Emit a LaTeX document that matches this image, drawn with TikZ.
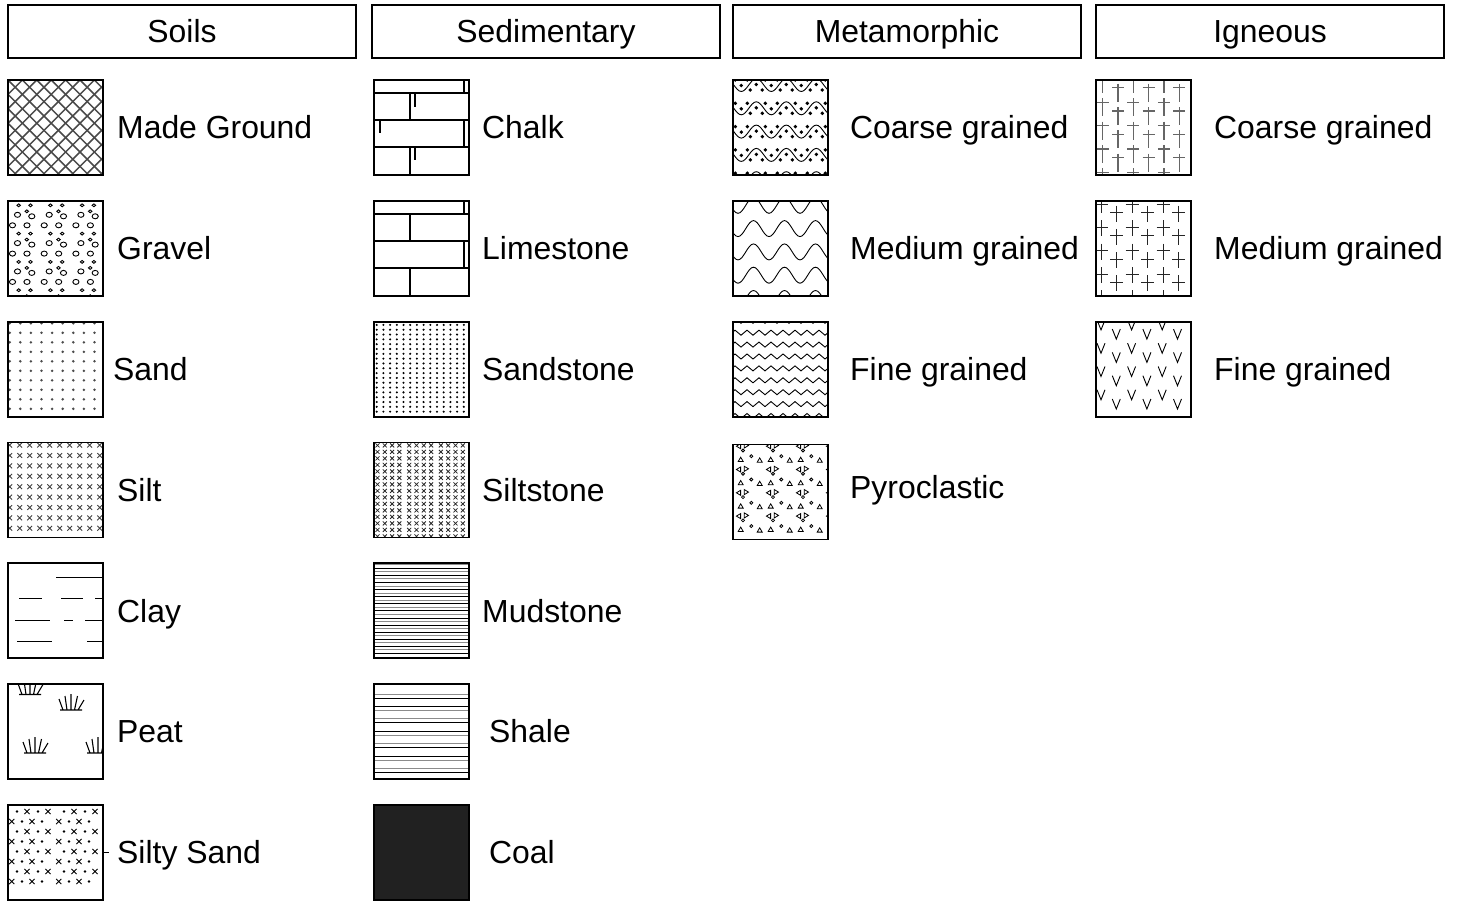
\documentclass[tikz,border=0pt]{standalone}
\usepackage{fontspec}
\setmainfont{Liberation Sans}
\usetikzlibrary{positioning}
\definecolor{hatch}{HTML}{4A4A4A}
\definecolor{coalgray}{HTML}{212121}
\definecolor{softline}{HTML}{8C8C8C}

\newcommand{\legendfont}{\fontsize{31.9pt}{38pt}\selectfont}
\newcommand{\xx}[3][2.2]{\draw (#2-#1,#3-#1) -- (#2+#1,#3+#1) (#2-#1,#3+#1) -- (#2+#1,#3-#1);}
\newcommand{\dt}[2]{\fill (#1,#2) circle[radius=1.9];}
\newcommand{\tuft}[2]{\draw[line width=1.1pt,shift={(#1,#2)}] (-11,0) -- (11,0) (-8,0) -- (-12,-11) (-4,0) -- (-6,-14) (0,0) -- (0,-16) (3.5,0) -- (6.5,-14) (7,0) -- (13,-10);}
\newcommand{\wave}[4]{\draw[line width=0.9pt] (#3-#4,#1+#2) \foreach \k in {-1,...,3}{ cos (#3+\k*#4+0.25*#4,#1) sin (#3+\k*#4+0.5*#4,#1-#2) cos (#3+\k*#4+0.75*#4,#1) sin (#3+\k*#4+#4,#1+#2)};}
\newcommand{\igcross}[5]{\draw (#1-#5,#2) -- (#1+#5,#2) (#1,#2-#3) -- (#1,#2+#4);}
\newcommand{\vmark}[2]{\draw (#1-4,#2-5) -- (#1,#2+5) -- (#1+4,#2-5);}

% soils
\newcommand{\patmade}{\foreach \k in {-7,...,14}{\draw[hatch,line width=1.5pt] (\k*14.4,0) -- ++(100,100) (\k*14.4,0) -- ++(-100,100);}}
\newcommand{\patgravel}{\foreach \i in {0,...,3}{\foreach \j in {0,...,3}{\foreach \x/\y/\r in {10.7/4.5/1.6,22.5/4.5/1.6,9.5/14/2.8,18.8/10.5/1.6,23.8/15.5/2.8,4.5/24.5/2.8,19/24.5/2.8}{\draw[line width=0.9pt] (\i*31.7+\x,\j*28.3+\y) ellipse[x radius=1.1*\r,y radius=0.9*\r];}}}}
\newcommand{\patsand}{\foreach \i in {0,...,8}{\foreach \j in {0,...,9}{\fill[black!70] (1.7+\i*10.6,1.7+\j*9.5) circle[radius=1.4];}}}
\newcommand{\patsilt}{\begin{scope}[black!75,line width=0.9pt]\foreach \i in {0,...,9}{\foreach \j in {0,...,8}{\xx[2.4]{1.7+\i*10}{2.7+\j*10.4}}}\end{scope}}
\newcommand{\patclay}{\draw[line width=1.4pt] (48,14) -- (95,14) (11,35) -- (34,35) (53,35) -- (75,35) (87,35) -- (95,35) (7,57) -- (42,57) (56,57) -- (65,57) (77,57) -- (95,57) (9,78) -- (44,78) (79,78) -- (95,78);}
\newcommand{\patpeat}{\tuft{22}{10.5}\tuft{63}{26}\tuft{27}{69}\tuft{90}{69}}
\newcommand{\patsiltysand}{\begin{scope}[line width=0.9pt]
  \foreach \i in {0,1}{
    \foreach \j in {0,2,4,6}{\fill (\i*47+9,6.7+\j*10) circle[radius=1.3]; \xx[2.6]{\i*47+19}{6.7+\j*10} \fill (\i*47+30,6.7+\j*10) circle[radius=1.3]; \xx[2.6]{\i*47+40}{6.7+\j*10}}
    \foreach \j in {1,3,5,7}{\xx[2.6]{\i*47+3.7}{6.7+\j*10} \fill (\i*47+14,6.7+\j*10) circle[radius=1.3]; \xx[2.6]{\i*47+24}{6.7+\j*10} \fill (\i*47+34,6.7+\j*10) circle[radius=1.3];}}
\end{scope}}

% sedimentary
\newcommand{\patlime}{\draw[line width=1.6pt] (0,13) -- (95,13) (0,40) -- (95,40) (0,67) -- (95,67) (90,0) -- (90,13) (36,13) -- (36,40) (90,40) -- (90,67) (36,67) -- (36,95);}
\newcommand{\patchalk}{\patlime\draw[line width=1.6pt] (41,13) -- (41,27) (6,40) -- (6,53) (41,67) -- (41,80);}
\newcommand{\patsandst}{\foreach \i in {0,...,13}{\foreach \j in {0,...,18}{\fill (2.7+\i*6.7,3.3+\j*4.82) circle[radius=1.15];}}}
\newcommand{\patsiltst}{\begin{scope}[black!85,line width=0.8pt]\foreach \g in {0,1,2}{\foreach \k in {0,...,3}{\foreach \j in {0,...,14}{\xx[2]{\g*31.7+3.5+\k*7.3}{3+\j*6.5}}}}\end{scope}}
\newcommand{\patmud}{\foreach \j in {0,...,26}{\ifodd\j\def\mudcol{black}\else\def\mudcol{softline}\fi\draw[\mudcol,line width=0.9pt] (0,1.5+\j*3.55) -- (95,1.5+\j*3.55);}}
\newcommand{\patshale}{\foreach \j in {0,...,6}{\ifodd\j\def\shup{black}\def\shlo{softline}\else\def\shup{softline}\def\shlo{black}\fi
  \draw[\shup,line width=1pt] (0,10+\j*12.4) -- (95,10+\j*12.4);
  \draw[\shlo,line width=1pt] (0,14+\j*12.4) -- (95,14+\j*12.4);}}
\newcommand{\patcoal}{\fill[coalgray] (0,0) rectangle (95,95);}

% metamorphic
\newcommand{\patmetc}{\foreach \j in {0,...,4}{\wave{5+\j*23.3}{6.5}{8.3}{30}
  \foreach \k in {-1,...,3}{\dt{8.3+\k*30}{5+\j*23.3+0.5}\dt{2.3+\k*30}{\j*23.3}\dt{14.3+\k*30}{\j*23.3}\dt{23.3+\k*30}{5+\j*23.3-0.5}\dt{17.3+\k*30}{10+\j*23.3}\dt{29.3+\k*30}{10+\j*23.3}}}}
\newcommand{\patmetm}{\foreach \j in {0,...,4}{\wave{4.5+\j*23.3}{8}{5}{31}}}
\newcommand{\patmetf}{\foreach \j in {0,...,8}{\draw[line width=0.9pt] (-4,1.7+\j*11.9) \foreach \k in {0,...,8}{ -- (\k*12+2,-3.3+\j*11.9) -- (\k*12+8,1.7+\j*11.9)};}}
\newcommand{\patpyro}{\begin{scope}[line width=0.8pt]\foreach \i in {-1,...,3}{\foreach \j in {-1,...,3}{
  \begin{scope}[shift={(\i*30,1.7+\j*23.3)}]
    \draw (3.4,0) -- (7.6,-2.5) -- (7.6,2.5) -- cycle;
    \draw (10,4.3) circle[radius=1.5];
    \draw (15.5,-0.7) -- (11.3,-3.2) -- (11.3,1.8) -- cycle;
    \draw (5.2,15.3) -- (10.2,15.3) -- (7.7,11) -- cycle;
    \draw (18.3,10) circle[radius=1.5];
    \draw (24.2,16) -- (29.2,16) -- (26.7,11.7) -- cycle;
  \end{scope}}}\end{scope}}

% igneous
\newcommand{\patigc}{\begin{scope}[black!60,line width=1.2pt]
  \foreach \i in {0,2,4}{\foreach \j in {0,...,4}{\igcross{6.7+\i*15.3}{-1+\j*23.3}{4}{14}{6}}}
  \foreach \i in {1,3,5}{\foreach \j in {-1,...,3}{\igcross{6.7+\i*15.3}{7.7+\j*23.3}{4}{14}{6}}}
\end{scope}}
\newcommand{\patigm}{\begin{scope}[black!85,line width=1pt]
  \foreach \i in {0,2,4}{\foreach \j in {0,...,4}{\igcross{5+\i*15.5}{3.3+\j*23.3}{7}{9}{6.5}}}
  \foreach \i in {1,3,5}{\foreach \j in {0,...,3}{\igcross{5+\i*15.5}{11.7+\j*23.3}{7}{9}{6.5}}}
\end{scope}}
\newcommand{\patigf}{\begin{scope}[line width=0.9pt]
  \foreach \i in {0,2,4}{\foreach \j in {0,...,3}{\vmark{5+\i*15.3}{3.3+\j*23.3}}}
  \foreach \i in {1,3,5}{\foreach \j in {0,...,3}{\vmark{5+\i*15.3}{12.5+\j*23.3}}}
\end{scope}}

\newcommand{\swatch}[4]{%
  \node[swatch] (#1) at (#2,#3) {};
  \begin{scope}[shift={(#1.north west)}]
    \clip (0,0) rectangle (95,95);
    #4
  \end{scope}
  \draw[line width=1.8pt] (#1.north west) rectangle (#1.south east);}

\begin{document}
\begin{tikzpicture}[x=1pt,y=-1pt,
  head/.style={draw,line width=1.4pt,minimum width=348pt,minimum height=53pt,inner sep=0pt,font=\legendfont,text height=22.8pt,text depth=0pt},
  swatch/.style={minimum size=95pt,inner sep=0pt,outer sep=0pt,anchor=north west},
  lbl/.style={inner sep=0pt,font=\legendfont,text height=22.8pt,text depth=0pt}]
\useasboundingbox (0,0) rectangle (1457,902);

\node[head] (soils) at (182,31.5) {Soils};
\node[head] (sedim) at (546,31.5) {Sedimentary};
\node[head] (meta) at (907,31.5) {Metamorphic};
\node[head] (igne) at (1270,31.5) {Igneous};

\swatch{made}{8}{80}{\patmade}
\node[lbl,right=14pt of made] (madel) {Made Ground};
\swatch{gravel}{8}{200.8}{\patgravel}
\node[lbl,right=14pt of gravel] (gravell) {Gravel};
\swatch{sand}{8}{321.6}{\patsand}
\node[lbl,right=10pt of sand] (sandl) {Sand};
\swatch{silt}{8}{442.4}{\patsilt}
\node[lbl,right=14pt of silt] (siltl) {Silt};
\swatch{clay}{8}{563.2}{\patclay}
\node[lbl,right=14pt of clay] (clayl) {Clay};
\swatch{peat}{8}{684}{\patpeat}
\node[lbl,right=14pt of peat] (peatl) {Peat};
\swatch{siltysand}{8}{804.8}{\patsiltysand}
\node[lbl,right=14pt of siltysand] (siltysandl) {Silty Sand};
\draw[line width=1pt] (siltysand.east) -- ++(6,0);

\swatch{chalk}{374}{80}{\patchalk}
\node[lbl,right=13pt of chalk] (chalkl) {Chalk};
\swatch{lime}{374}{200.8}{\patlime}
\node[lbl,right=13pt of lime] (limel) {Limestone};
\swatch{sandst}{374}{321.6}{\patsandst}
\node[lbl,right=13pt of sandst] (sandstl) {Sandstone};
\swatch{siltst}{374}{442.4}{\patsiltst}
\node[lbl,right=13pt of siltst] (siltstl) {Siltstone};
\swatch{mud}{374}{563.2}{\patmud}
\node[lbl,right=13pt of mud] (mudl) {Mudstone};
\swatch{shale}{374}{684}{\patshale}
\node[lbl,right=20pt of shale] (shalel) {Shale};
\swatch{coal}{374}{804.8}{\patcoal}
\node[lbl,right=20pt of coal] (coall) {Coal};

\swatch{metc}{733}{80}{\patmetc}
\node[lbl,right=22pt of metc] (metcl) {Coarse grained};
\swatch{metm}{733}{200.8}{\patmetm}
\node[lbl,right=22pt of metm] (metml) {Medium grained};
\swatch{metf}{733}{321.6}{\patmetf}
\node[lbl,right=22pt of metf] (metfl) {Fine grained};
\swatch{pyro}{733}{444.5}{\patpyro}
\node[lbl,right=22pt of pyro,yshift=5pt] (pyrol) {Pyroclastic};

\swatch{igc}{1096}{80}{\patigc}
\node[lbl,right=23pt of igc] (igcl) {Coarse grained};
\swatch{igm}{1096}{200.8}{\patigm}
\node[lbl,right=23pt of igm] (igml) {Medium grained};
\swatch{igf}{1096}{321.6}{\patigf}
\node[lbl,right=23pt of igf] (igfl) {Fine grained};
\end{tikzpicture}
\end{document}
